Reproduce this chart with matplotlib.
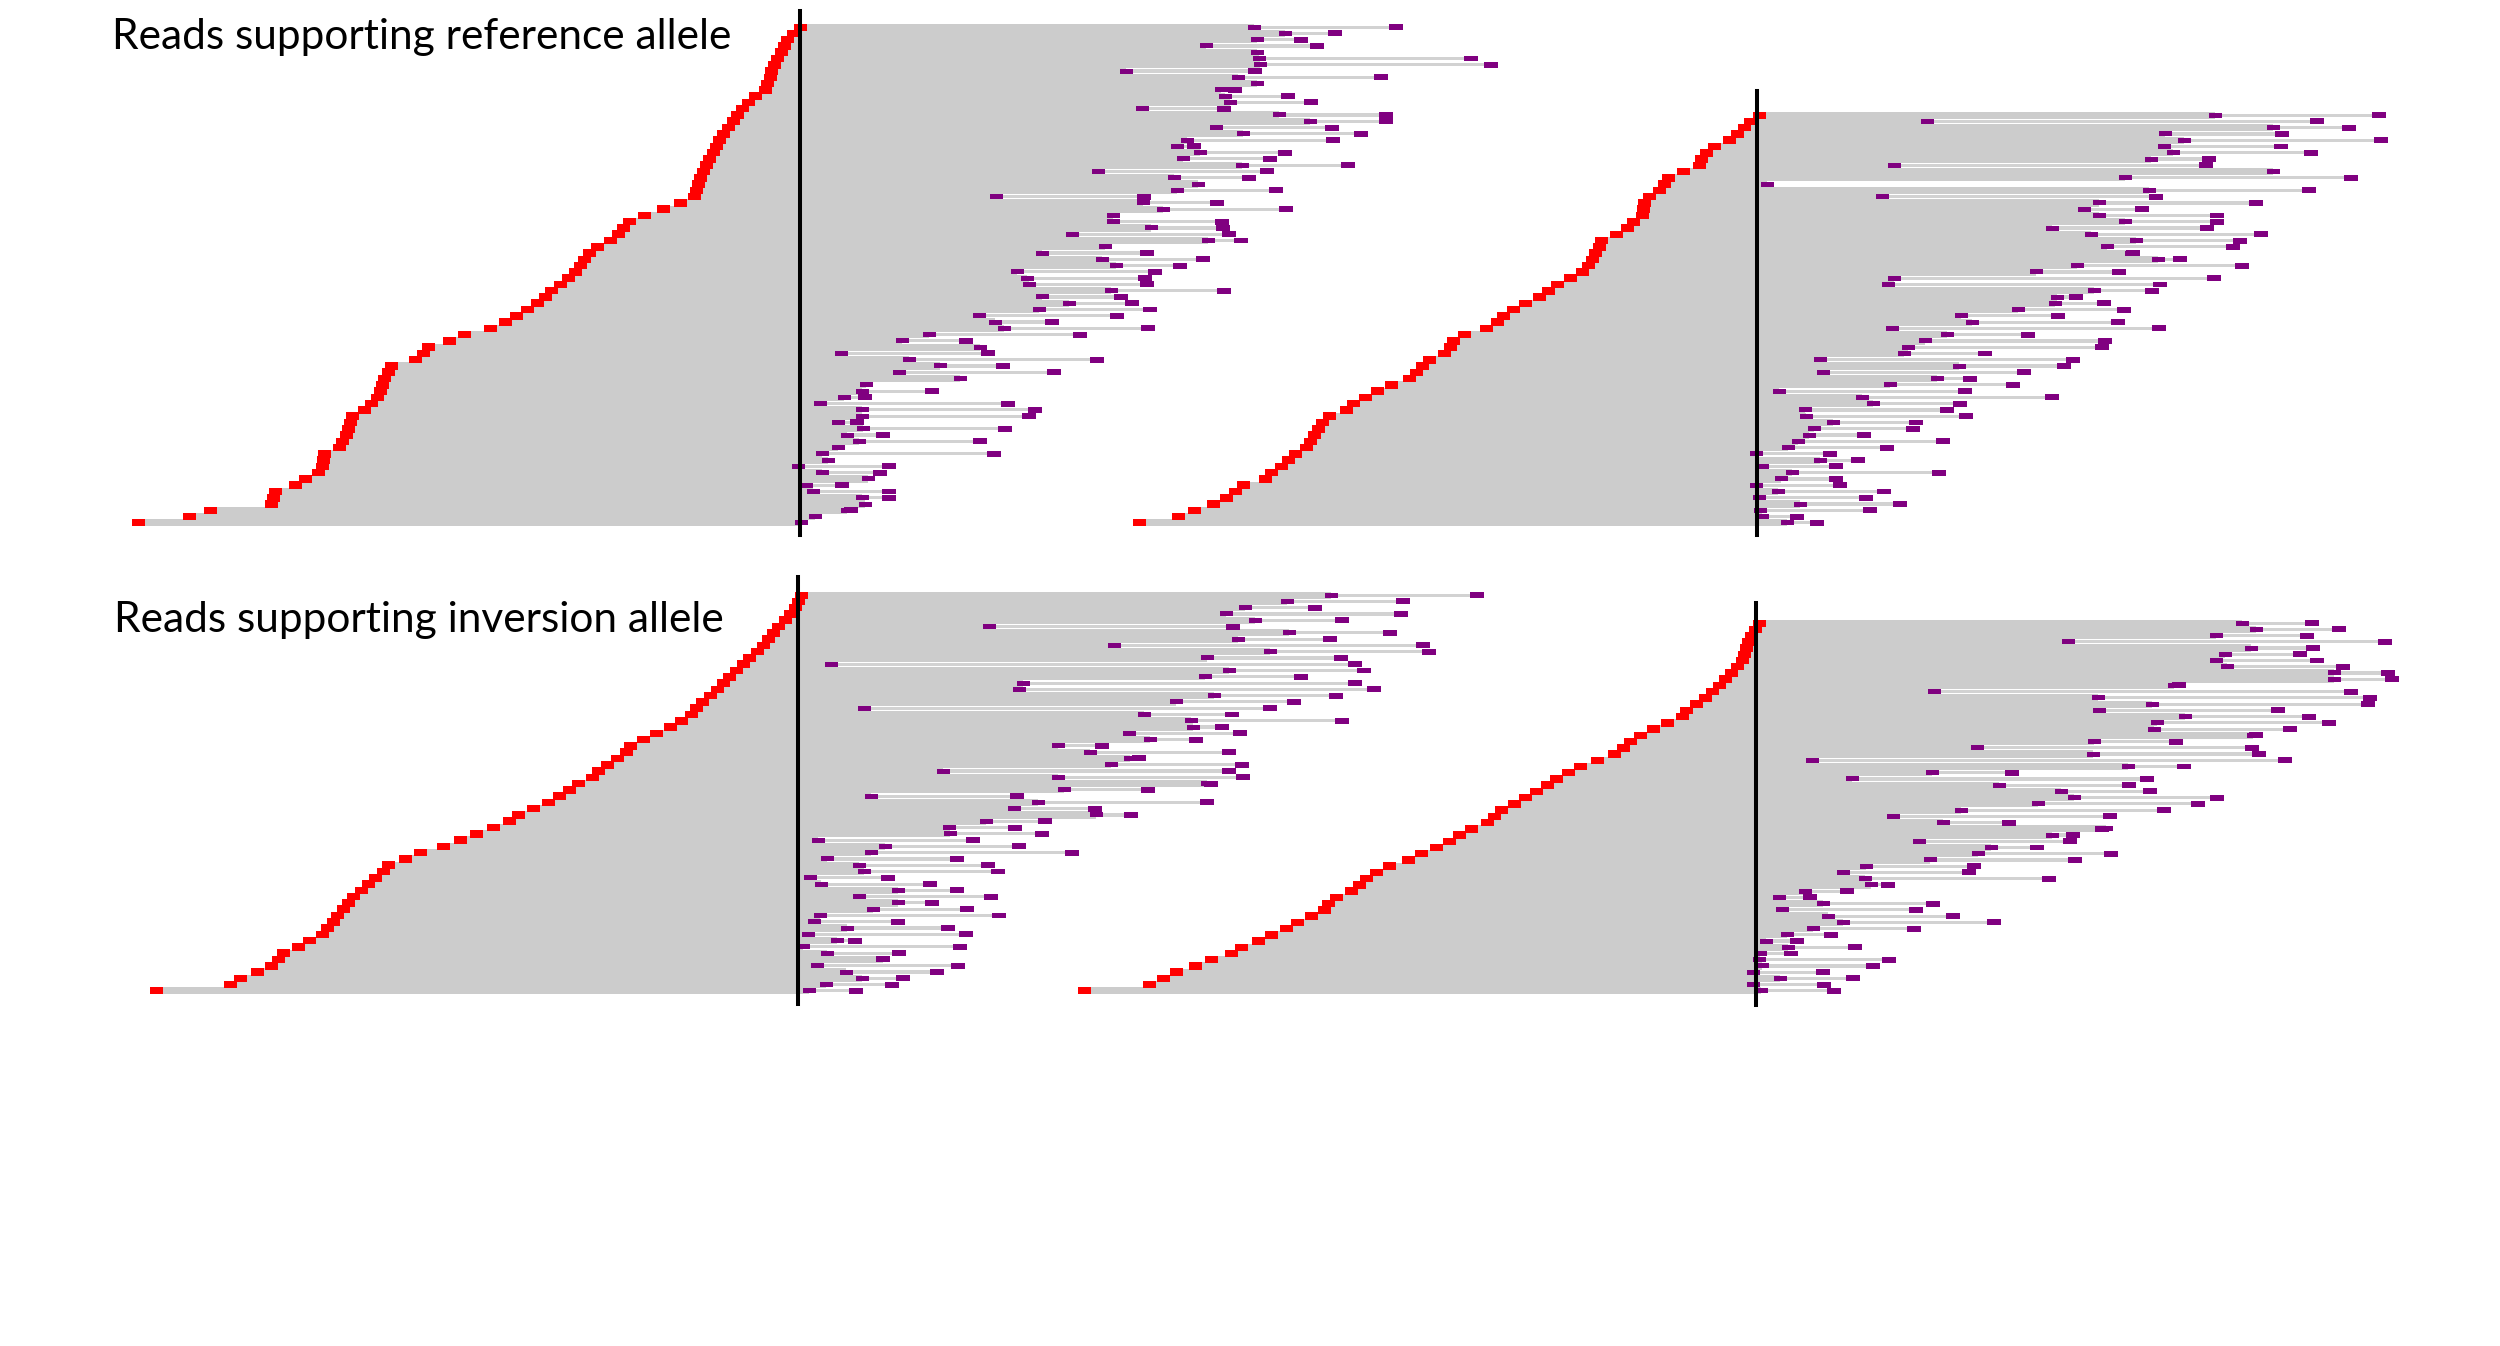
import numpy as np
import matplotlib
matplotlib.use('Agg')
import matplotlib.pyplot as plt

# Each panel: one row per read, top to bottom.
# start = left end of the read (red), mate = first purple mark,
# end = far purple mark; positions are relative to the breakpoint.

# reference allele, breakpoint 1 (top left)
ref1_start = [-5, -12, -18, -21, -24, -28, -31, -34, -35, -38,
              -40, -50, -57, -63, -68, -72, -77, -82, -86, -89,
              -92, -96, -99, -102, -105, -107, -109, -111, -125, -142,
              -161, -176, -182, -187, -195, -208, -216, -221, -225, -230,
              -237, -245, -254, -260, -268, -278, -289, -300, -315, -341,
              -356, -377, -382, -390, -414, -417, -421, -423, -425, -428,
              -434, -441, -453, -455, -457, -459, -463, -466, -481, -482,
              -483, -487, -500, -510, -530, -532, -534, -595, -616, -667]
ref1_mate = [454, 485, 457, 406, 457, 459, 460, 326, 438, 457,
             421, 425, 430, 342, 479, 510, 416, 443, 387, 377,
             400, 383, 442, 298, 374, 398, 377, 196, 343, 363,
             313, 313, 351, 272, 408, 305, 242, 302, 316, 217,
             227, 229, 311, 242, 269, 239, 179, 195, 204, 129,
             102, 180, 41, 109, 140, 99, 160, 66, 62, 44,
             20, 62, 62, 38, 63, 47, 59, 38, 22, 28,
             -2, 22, 68, 6, 13, 62, 65, 47, 15, 1]
ref1_end = [602, 541, 507, 523, 457, 677, 697, 461, 587, 457,
            441, 494, 517, 430, 592, 592, 538, 567, 539, 400,
            491, 476, 554, 473, 455, 398, 482, 350, 423, 492,
            313, 428, 429, 435, 447, 305, 353, 409, 386, 361,
            351, 353, 430, 327, 338, 356, 323, 258, 354, 286,
            172, 180, 194, 303, 209, 260, 160, 66, 138, 71,
            214, 241, 235, 63, 211, 89, 186, 38, 200, 28,
            95, 86, 68, 48, 95, 95, 65, 57, 15, 1]

# reference allele, breakpoint 2 (top right)
ref2_start = [-3, -12, -18, -25, -33, -48, -56, -61, -63, -79,
              -94, -98, -103, -113, -118, -119, -120, -129, -135, -146,
              -161, -163, -167, -170, -174, -180, -192, -205, -214, -223,
              -237, -249, -259, -265, -276, -298, -309, -312, -318, -333,
              -340, -346, -353, -371, -385, -397, -409, -416, -433, -440,
              -444, -448, -452, -456, -467, -474, -481, -491, -497, -519,
              -527, -536, -549, -568, -584, -623]
ref2_mate = [458, 170, 516, 408, 427, 407, 416, 394, 137, 516,
             368, 10, 392, 125, 342, 327, 342, 368, 295, 334,
             379, 350, 374, 401, 320, 279, 137, 131, 337, 300,
             298, 261, 204, 215, 135, 190, 168, 151, 147, 63,
             202, 66, 180, 133, 22, 105, 116, 48, 49, 76,
             57, 52, 41, 31, -1, 63, 5, 35, 24, -1,
             21, 2, 43, 3, 5, 30]
ref2_end = [628, 566, 598, 531, 630, 530, 560, 458, 455, 516,
            600, 10, 558, 405, 505, 391, 466, 466, 456, 510,
            489, 482, 382, 429, 491, 368, 463, 409, 401, 325,
            353, 373, 307, 367, 408, 277, 354, 351, 234, 322,
            313, 273, 219, 262, 214, 301, 209, 196, 215, 165,
            162, 113, 192, 136, 79, 107, 85, 188, 85, 89,
            133, 115, 149, 119, 46, 66]

# inversion allele, breakpoint 1 (bottom left)
inv1_start = [-2, -5, -8, -13, -18, -25, -30, -35, -40, -46,
              -54, -60, -67, -74, -80, -86, -93, -101, -107, -112,
              -122, -133, -147, -160, -173, -177, -186, -196, -205, -211,
              -225, -234, -244, -255, -270, -285, -294, -310, -327, -343,
              -360, -383, -398, -415, -420, -428, -435, -442, -450, -455,
              -460, -466, -470, -476, -481, -494, -505, -520, -525, -532,
              -546, -563, -573, -647]
inv1_mate = [533, 489, 447, 428, 457, 191, 491, 440, 316, 472,
             409, 33, 431, 407, 225, 221, 416, 378, 66, 346,
             393, 395, 331, 352, 260, 292, 332, 313, 145, 260,
             409, 266, 73, 240, 216, 298, 188, 151, 152, 20,
             87, 73, 29, 61, 66, 12, 23, 100, 61, 100,
             75, 22, 16, 49, 10, 39, 5, 29, 85, 19,
             48, 64, 28, 11]
inv1_end = [685, 611, 523, 609, 550, 441, 598, 538, 631, 637,
            549, 563, 572, 509, 563, 582, 544, 502, 478, 440,
            550, 430, 448, 404, 310, 437, 347, 450, 437, 451,
            419, 356, 225, 415, 303, 339, 253, 223, 250, 181,
            227, 280, 165, 196, 206, 96, 138, 165, 199, 140,
            175, 207, 106, 156, 174, 63, 168, 107, 91, 166,
            145, 111, 100, 64]

# inversion allele, breakpoint 2 (bottom right)
inv2_start = [-2, -6, -10, -13, -15, -17, -19, -24, -30, -36,
              -42, -49, -56, -65, -75, -79, -94, -108, -121, -131,
              -138, -147, -164, -181, -193, -205, -214, -225, -236, -247,
              -260, -267, -274, -290, -302, -312, -325, -340, -353, -372,
              -385, -395, -402, -410, -425, -433, -437, -450, -464, -475,
              -490, -503, -520, -530, -550, -566, -585, -598, -612, -677]
inv2_mate = [486, 500, 460, 312, 495, 469, 460, 471, 578, 578,
             418, 178, 342, 396, 343, 429, 401, 398, 497, 338,
             221, 337, 56, 372, 176, 96, 243, 305, 318, 282,
             205, 137, 187, 350, 296, 163, 235, 222, 174, 110,
             87, 109, 115, 49, 23, 67, 26, 72, 87, 57,
             31, 10, 32, 4, 3, 6, -3, 24, -3, 5]
inv2_end = [562, 589, 557, 635, 563, 550, 567, 593, 638, 642,
            429, 601, 620, 618, 528, 559, 579, 540, 506, 426,
            502, 509, 535, 434, 262, 397, 379, 400, 467, 448,
            414, 360, 259, 352, 323, 320, 287, 361, 325, 224,
            219, 299, 138, 97, 60, 183, 166, 203, 244, 164,
            81, 47, 105, 41, 139, 123, 73, 103, 74, 84]

titles = ['Reads supporting reference allele', 'Reads supporting inversion allele']

GRAY = '#cccccc'
THIN = '#d2d2d2'
RED = '#ff0000'
PURPLE = '#800080'

W, H = 2500, 1346
fig = plt.figure(figsize=(W / 100, H / 100), dpi=100)


def panel(bp, top, bottom, line_top, line_bot, start, mate, end):
    n = len(start)
    ax = fig.add_axes([(bp - 720) / W, 1 - bottom / H, 1440 / W, (bottom - top) / H])
    ax.set_xlim(-720, 720)
    ax.set_ylim(n, 0)
    ax.axis('off')
    y = np.arange(n) + 0.5
    start, mate, end = np.array(start), np.array(mate), np.array(end)
    # read bodies, slightly overlapping so they merge into one grey block
    ax.barh(y, mate - start, left=start, height=1.15, color=GRAY, lw=0, antialiased=False)
    # thin links out to the far mark
    ax.barh(y, end - mate, left=mate, height=0.5, color=THIN, lw=0)
    ax.barh(y, 13, left=start - 1, height=1.2, color=RED, lw=0)
    ax.barh(y, 13, left=mate - 6, height=0.8, color=PURPLE, lw=0)
    far = end > mate
    ax.barh(y[far], 14, left=end[far] - 13, height=0.95, color=PURPLE, lw=0)
    span = bottom - top
    ax.axvline(0, ymin=-(line_bot - bottom) / span, ymax=1 + (top - line_top) / span,
               color='black', lw=2.9, clip_on=False)
    return ax


panel(800, 24, 526, 11, 535, ref1_start, ref1_mate, ref1_end)
panel(1757, 112, 526, 91, 535, ref2_start, ref2_mate, ref2_end)
panel(798, 592, 994, 577, 1004, inv1_start, inv1_mate, inv1_end)
panel(1756, 620, 994, 603, 1005, inv2_start, inv2_mate, inv2_end)

fig.text(112 / W, 1 - 49 / H, titles[0], fontsize=30.5, family='Lato', va='baseline')
fig.text(114 / W, 1 - 632 / H, titles[1], fontsize=30.5, family='Lato', va='baseline')

fig.savefig('out.png', dpi=100)
